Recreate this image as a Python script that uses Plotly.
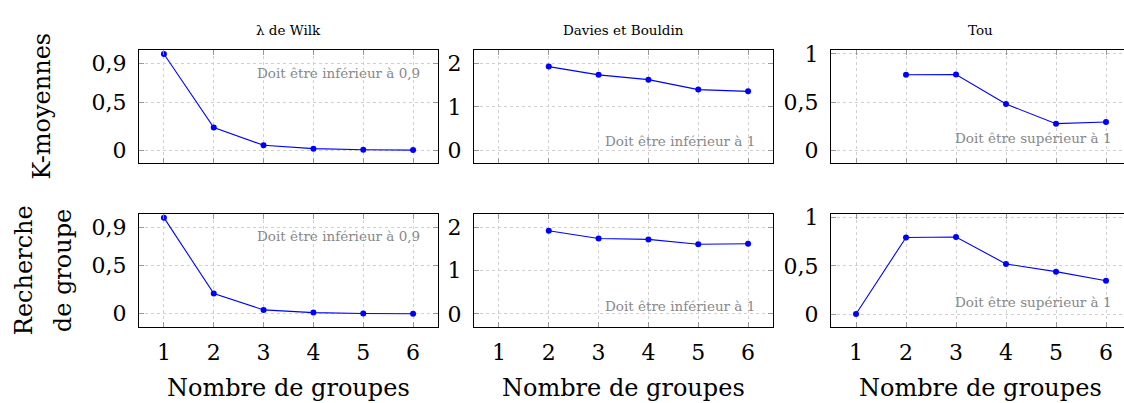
import plotly.graph_objects as go

# ---- data ----
groups = [1, 2, 3, 4, 5, 6]
x_tick_labels = ["1", "2", "3", "4", "5", "6"]

wilk_kmeans = [1.00, 0.235, 0.05, 0.015, 0.003, 0.0]
davies_kmeans = [None, 1.93, 1.74, 1.63, 1.40, 1.36]
tou_kmeans = [None, 0.785, 0.788, 0.48, 0.277, 0.294]

wilk_search = [1.00, 0.21, 0.04, 0.012, 0.003, 0.0]
davies_search = [None, 1.92, 1.74, 1.72, 1.61, 1.62]
tou_search = [0.0, 0.795, 0.80, 0.52, 0.44, 0.345]

wilk_ticks = [0, 0.5, 0.9]
wilk_tick_labels = ["0", "0,5", "0,9"]
davies_ticks = [0, 1, 2]
davies_tick_labels = ["0", "1", "2"]
tou_ticks = [0, 0.5, 1]
tou_tick_labels = ["0", "0,5", "1"]

col_titles = ["\u03bb de Wilk", "Davies et Bouldin", "Tou"]
row_titles = [["K-moyennes"], ["Recherche", "de groupe"]]
notes = ["Doit être inférieur à 0,9", "Doit être inférieur à 1", "Doit être supérieur à 1"]
x_title = "Nombre de groupes"

# ---- layout constants ----
W, H = 1124, 403
FONT = "DejaVu Serif"
col_px = [(139, 438), (474, 773), (831, 1124)]
row_px = [(43, 158), (210, 325)]
x_ranges = [[0.5, 6.5], [0.5, 6.5], [0.5, 6.36]]
y_ranges = [[-0.133, 1.04], [-0.29, 2.31], [-0.13, 1.04]]
y_ticks = [wilk_ticks, davies_ticks, tou_ticks]
y_tick_texts = [wilk_tick_labels, davies_tick_labels, tou_tick_labels]
series = [[wilk_kmeans, davies_kmeans, tou_kmeans],
          [wilk_search, davies_search, tou_search]]
note_y = [[0.80, 0.19, 0.217], [0.803, 0.183, 0.217]]
note_x = [6.18, 6.18, 6.16]

fig = go.Figure()
layout = dict(
    width=W, height=H,
    margin=dict(l=0, r=0, t=0, b=0),
    paper_bgcolor="white", plot_bgcolor="white",
    showlegend=False,
    font=dict(family=FONT, color="black"),
)
annotations = []

idx = 0
for r in range(2):
    for c in range(3):
        idx += 1
        xa = "xaxis" if idx == 1 else f"xaxis{idx}"
        ya = "yaxis" if idx == 1 else f"yaxis{idx}"
        xr = "x" if idx == 1 else f"x{idx}"
        yr = "y" if idx == 1 else f"y{idx}"
        x0, x1 = col_px[c]
        y0, y1 = row_px[r]
        layout[xa] = dict(
            domain=[x0 / W, x1 / W], anchor=yr, range=x_ranges[c],
            tickmode="array", tickvals=groups, ticktext=x_tick_labels,
            showticklabels=(r == 1), ticks="inside", ticklen=5, tickcolor="#999999",
            showline=True, linecolor="black", linewidth=1, mirror="allticks",
            showgrid=True, gridcolor="#d0d0d0", griddash="dot", gridwidth=1,
            zeroline=False, tickfont=dict(size=22, family=FONT), ticklabelstandoff=6,
        )
        layout[ya] = dict(
            domain=[(H - y1) / H, (H - y0) / H], anchor=xr, range=y_ranges[c],
            tickmode="array", tickvals=y_ticks[c], ticktext=y_tick_texts[c],
            ticks="inside", ticklen=5, tickcolor="#999999",
            showline=True, linecolor="black", linewidth=1,
            mirror=("allticks" if c < 2 else False),
            showgrid=True, gridcolor="#d0d0d0", griddash="dot", gridwidth=1,
            zeroline=False, tickfont=dict(size=22, family=FONT), ticklabelstandoff=7,
        )
        fig.add_trace(go.Scatter(
            x=groups, y=series[r][c], mode="lines+markers",
            line=dict(color="#0000ff", width=1.1),
            marker=dict(color="#0000ff", size=6),
            xaxis=xr, yaxis=yr, connectgaps=False,
        ))
        annotations.append(dict(
            x=note_x[c], xref=xr, y=note_y[r][c], yref=f"{yr} domain",
            text=notes[c], showarrow=False, xanchor="right", yanchor="middle",
            font=dict(size=13.5, color="#888888", family=FONT),
        ))
        if r == 0:
            annotations.append(dict(
                x=(x0 + (x1 if c < 2 else 1130)) / 2 / W, xref="paper",
                y=(H - 22) / H, yref="paper",
                text=col_titles[c], showarrow=False, xanchor="center", yanchor="middle",
                font=dict(size=13.5, family=FONT),
            ))
        else:
            annotations.append(dict(
                x=(x0 + (x1 if c < 2 else 1130)) / 2 / W, xref="paper",
                y=(H - 388) / H, yref="paper",
                text=x_title, showarrow=False, xanchor="center", yanchor="middle",
                font=dict(size=24, family=FONT),
            ))

# row labels
row_label_x = [[42], [24, 63]]
for r in range(2):
    yc = (row_px[r][0] + row_px[r][1]) / 2
    for k, txt in enumerate(row_titles[r]):
        annotations.append(dict(
            x=row_label_x[r][k] / W, xref="paper", y=(H - yc) / H, yref="paper",
            text=txt, showarrow=False, textangle=-90,
            xanchor="center", yanchor="middle",
            font=dict(size=24, family=FONT),
        ))

layout["annotations"] = annotations
fig.update_layout(**layout)
fig.write_html(
    "out.html",
    config={"displayModeBar": False},
    post_script=(
        "document.documentElement.style.margin='0';"
        "document.body.style.margin='0';document.body.style.padding='0';"
        "document.body.style.overflow='hidden';"
        "var g=document.getElementsByClassName('plotly-graph-div')[0];"
        "g.style.position='fixed';g.style.top='0px';g.style.left='0px';"
    ),
)
